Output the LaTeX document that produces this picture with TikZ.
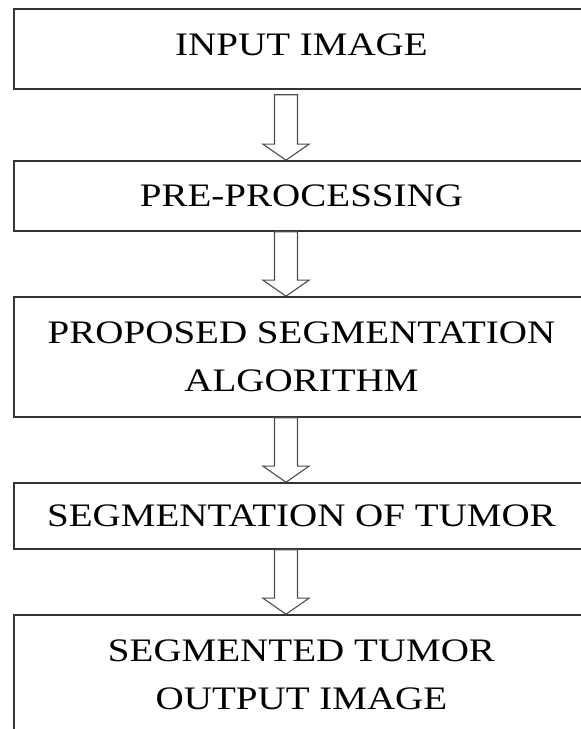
\documentclass[tikz,border=0pt]{standalone}
\usepackage{fontspec}
\setmainfont{Liberation Serif}
\newfontfamily\boxfont[FakeStretch=1.19]{Liberation Serif}
\usetikzlibrary{calc}
\newcommand\flowarrow[2]{%
  \draw[blockarrow] let \p1=(#1), \p2=(#2) in
    (\x1-11.5pt,\y1) -- (\x1-11.5pt,\y2+16pt) -- (\x1-23pt,\y2+16pt) --
    (\x1,\y2) -- (\x1+23pt,\y2+16pt) -- (\x1+11.5pt,\y2+16pt) --
    (\x1+11.5pt,\y1) -- cycle;}
\begin{document}
\begin{tikzpicture}[x=1pt,y=1pt,
  stage/.style={draw=black!80, line width=1.6pt, minimum width=575pt,
    inner sep=0pt, align=center, text=black,
    font=\boxfont\fontsize{32.8}{48.5}\selectfont},
  blockarrow/.style={draw=black!70, line width=1.1pt, line join=miter}]
\useasboundingbox (0,0) rectangle (581,729);
\node[stage, minimum height=80pt, text depth=9pt] (b1) at (301.5,680) {INPUT IMAGE};
\node[stage, minimum height=70pt] (b2) at (301.5,533) {PRE-PROCESSING};
\node[stage, minimum height=120pt] (b3) at (301.5,372) {PROPOSED SEGMENTATION\\ALGORITHM};
\node[stage, minimum height=66pt] (b4) at (301.5,213) {SEGMENTATION OF TUMOR};
\node[stage, minimum height=120pt] (b5) at (301.5,54) {SEGMENTED TUMOR\\OUTPUT IMAGE};
\coordinate (a1) at ($(b1.south)+(-15.5,-5)$);
\coordinate (a2) at ($(b2.south)+(-15.5,0)$);
\coordinate (a3) at ($(b3.south)+(-15.5,0)$);
\coordinate (a4) at ($(b4.south)+(-15.5,0)$);
\flowarrow{a1}{b2.north}
\flowarrow{a2}{b3.north}
\flowarrow{a3}{b4.north}
\flowarrow{a4}{b5.north}
\end{tikzpicture}
\end{document}
